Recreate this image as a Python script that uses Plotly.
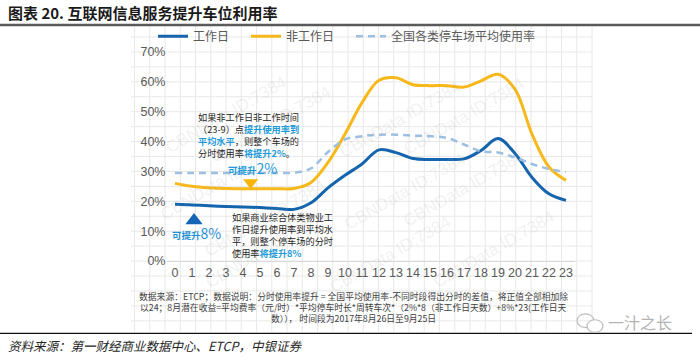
import plotly.graph_objects as go

# ---------------- data ----------------
hours = list(range(24))
workday = [19.0, 18.8, 18.5, 18.3, 18.1, 17.9, 17.6, 17.3, 19.5, 24.5, 28.7, 32.5,
           37.2, 36.3, 34.3, 34.0, 34.0, 34.2, 37.0, 41.0, 36.0, 28.0, 22.5, 20.3]
non_workday = [26.0, 25.0, 24.5, 24.3, 24.2, 24.2, 24.2, 24.3, 26.3, 33.0, 42.5, 53.0,
               60.5, 61.3, 59.0, 58.7, 58.7, 58.2, 60.3, 62.5, 57.5, 42.5, 31.5, 27.0]
national_avg = [29.5, 29.5, 29.5, 29.5, 29.5, 29.5, 29.5, 29.6, 31.0, 36.5, 40.7, 41.8,
                42.3, 42.3, 42.0, 41.8, 41.2, 39.0, 36.8, 36.3, 34.7, 32.5, 30.8, 29.8]
series_names = ["工作日", "非工作日", "全国各类停车场平均使用率"]
y_ticks = [0, 10, 20, 30, 40, 50, 60, 70]
y_tick_labels = ["0%", "10%", "20%", "30%", "40%", "50%", "60%", "70%"]

W, H = 700, 360
FONT = "Noto Sans CJK SC"
BLUE = "#1464ae"
YELLOW = "#f6b81a"
DASH = "#9dbfe2"
HL = "#1f9bd9"
GRAYTXT = "#595959"


def px(x):
    return x / W


def py(y):
    return 1 - y / H


fig = go.Figure()
fig.add_trace(go.Scatter(x=hours, y=workday, name=series_names[0], mode="lines",
                         line=dict(color=BLUE, width=3, shape="spline", smoothing=1),
                         legend="legend"))
fig.add_trace(go.Scatter(x=hours, y=non_workday, name=series_names[1], mode="lines",
                         line=dict(color=YELLOW, width=3, shape="spline", smoothing=1),
                         legend="legend2"))
fig.add_trace(go.Scatter(x=hours, y=national_avg, name=series_names[2], mode="lines",
                         line=dict(color=DASH, width=2.5, dash="7px,5px", shape="spline", smoothing=1),
                         legend="legend3"))

# triangle glyphs of the annotations
fig.add_trace(go.Scatter(x=[4.45], y=[26.3], mode="markers", showlegend=False, hoverinfo="skip",
                         marker=dict(symbol="triangle-down", size=13, color="#f7b500")))
fig.add_trace(go.Scatter(x=[1.12], y=[13.6], mode="markers", showlegend=False, hoverinfo="skip",
                         marker=dict(symbol="triangle-up", size=15, color="#1565b4")))

shapes = []
# paper grid background
gx = 165 - 15.25 * 2
while gx <= 592:
    shapes.append(dict(type="line", xref="paper", yref="paper", x0=px(gx), x1=px(gx),
                       y0=py(25), y1=py(338), line=dict(color="#e8e8e8", width=1), layer="below"))
    gx += 15.25
gy = 266 + 15.28 * 4
while gy >= 25:
    shapes.append(dict(type="line", xref="paper", yref="paper", x0=px(131), x1=px(592),
                       y0=py(gy), y1=py(gy), line=dict(color="#e8e8e8", width=1), layer="below"))
    gy -= 15.28
# title rule and bottom rule
shapes.append(dict(type="line", xref="paper", yref="paper", x0=0, x1=1, y0=py(24.5), y1=py(24.5),
                   line=dict(color="#5a5a5a", width=2.5)))
shapes.append(dict(type="line", xref="paper", yref="paper", x0=0, x1=px(692), y0=py(340), y1=py(340),
                   line=dict(color="#111111", width=1.3)))
# wechat icon
shapes.append(dict(type="circle", xref="paper", yref="paper", x0=px(577), x1=px(594), y0=py(334), y1=py(320),
                   line=dict(color="#bdbdbd", width=1.2)))
shapes.append(dict(type="circle", xref="paper", yref="paper", x0=px(587), x1=px(603), y0=py(339), y1=py(326),
                   line=dict(color="#bdbdbd", width=1.2), fillcolor="white"))

ann = []
# title
ann.append(dict(text="<b>图表 20. 互联网信息服务提升车位利用率</b>", x=px(6), y=py(12), xref="paper", yref="paper",
                xanchor="left", yanchor="middle", showarrow=False,
                font=dict(family=FONT, size=15, color="#1a1a1a")))
# watermarks
for (wx, wy) in [(160, 70), (270, 80), (400, 75), (530, 72), (155, 185), (265, 222),
                 (405, 195), (530, 192), (200, 300), (390, 305), (560, 300)]:
    ann.append(dict(text="CBNData ID:7384", x=px(wx), y=py(wy), xref="paper", yref="paper",
                    showarrow=False, textangle=-30,
                    font=dict(family="Liberation Sans", size=17, color="rgba(170,170,170,0.17)")))
# upper note
hl = lambda s: f"<span style='color:{HL}'><b>{s}</b></span>"
ann.append(dict(text=("如果非工作日非工作时间<br>（23-9）点" + hl("提升使用率到") + "<br>"
                      + hl("平均水平") + "，则整个车场的<br>分时使用率" + hl("将提升2%") + "。"),
                x=px(196), y=py(109), xref="paper", yref="paper", xanchor="left", yanchor="top",
                align="left", showarrow=False, font=dict(family=FONT, size=9.2, color="#262626")))
ann.append(dict(text=("如果商业综合体类物业工<br>作日提升使用率到平均水<br>平，则整个停车场的分时<br>使用率"
                      + hl("将提升8%")),
                x=px(230), y=py(212), xref="paper", yref="paper", xanchor="left", yanchor="top",
                align="left", showarrow=False, font=dict(family=FONT, size=9.2, color="#262626")))
ann.append(dict(text=f"<b>可提升</b><span style='font-size:14px'>2%</span>", x=px(226), y=py(171),
                xref="paper", yref="paper", xanchor="left", yanchor="middle", showarrow=False,
                font=dict(family=FONT, size=9.5, color=HL)))
ann.append(dict(text=f"<b>可提升</b><span style='font-size:14px'>8%</span>", x=px(170), y=py(237),
                xref="paper", yref="paper", xanchor="left", yanchor="middle", showarrow=False,
                font=dict(family=FONT, size=9.5, color="#1f8fd6")))
# footnote
foot = ["数据来源：ETCP；数据说明：分时使用率提升 = 全国平均使用率-不同时段得出分时的差值，将正值全部相加除",
        "以24；8月潜在收益=平均费率（元/时）*平均停车时长*周转车次*（2%*8（非工作日天数）+8%*23(工作日天",
        "数））， 时间段为2017年8月26日至9月25日"]
for i, t in enumerate(foot):
    ann.append(dict(text=t, x=px(353), y=py(302 + 11.5 * i), xref="paper", yref="paper",
                    xanchor="center", yanchor="middle", showarrow=False, borderpad=0,
                    font=dict(family=FONT, size=8.8, color="#404040")))
# source
ann.append(dict(text="<i>资料来源：第一财经商业数据中心、ETCP，中银证券</i>", x=px(6), y=py(352),
                xref="paper", yref="paper", xanchor="left", yanchor="middle", showarrow=False,
                font=dict(family=FONT, size=12.5, color="#262626")))
ann.append(dict(text="一汁之长", x=px(606), y=py(328), xref="paper", yref="paper",
                xanchor="left", yanchor="middle", showarrow=False,
                font=dict(family=FONT, size=16, color="#b3b3b3")))

leg_common = dict(orientation="h", yanchor="middle", xanchor="left", bgcolor="rgba(0,0,0,0)",
                  font=dict(family=FONT, size=12, color=GRAYTXT), itemwidth=30)

fig.update_layout(
    width=W, height=H, margin=dict(l=0, r=0, t=0, b=0),
    paper_bgcolor="white", plot_bgcolor="rgba(0,0,0,0)",
    shapes=shapes, annotations=ann,
    legend=dict(x=px(153), y=py(36), **leg_common),
    legend2=dict(x=px(246), y=py(36), **leg_common),
    legend3=dict(x=px(351), y=py(36), **leg_common),
    xaxis=dict(domain=[px(166.5), px(574.5)], range=[-0.5, 23.5], tickvals=hours,
               showgrid=False, zeroline=False, showline=True, linecolor="#d9d9d9", linewidth=1,
               ticks="", tickfont=dict(family="Liberation Sans", size=12.5, color=GRAYTXT)),
    yaxis=dict(domain=[py(266), py(45.9)], range=[0, 72], tickvals=y_ticks, ticktext=y_tick_labels,
               showgrid=False, zeroline=False, showline=False, ticks="",
               tickfont=dict(family="Liberation Sans", size=12.5, color=GRAYTXT)),
    hovermode=False,
)

fig.write_html("out.html", config={"displayModeBar": False},
               post_script="document.body.style.margin='0px';")
